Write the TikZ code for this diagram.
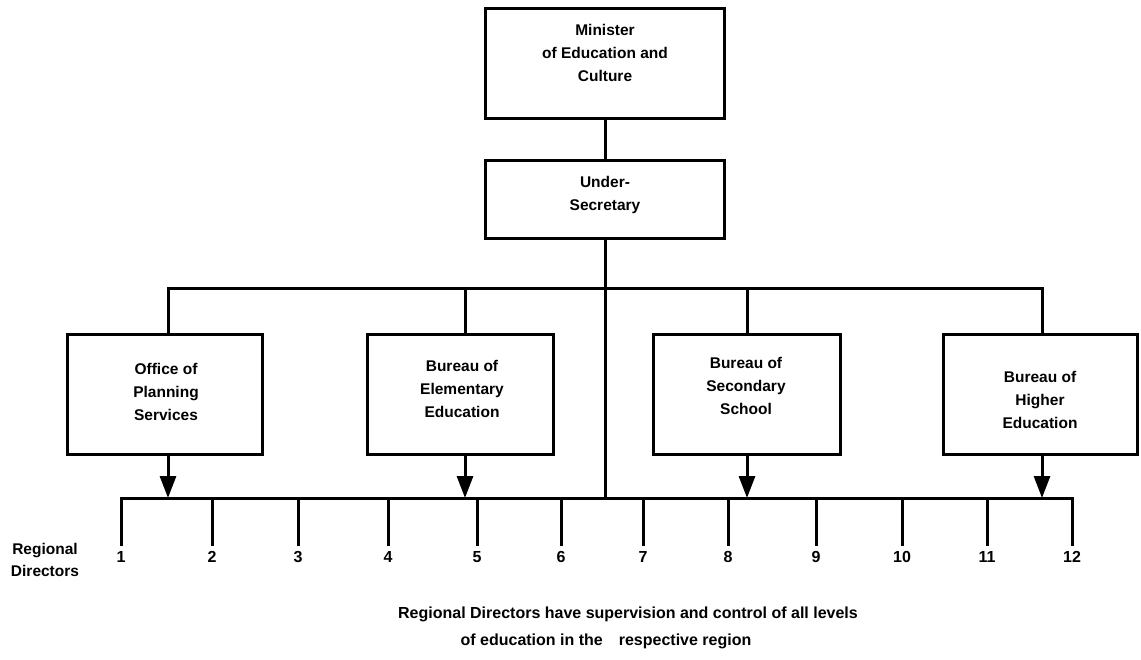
\documentclass[tikz,border=0pt]{standalone}
\usepackage{fontspec}
\setmainfont{Liberation Sans}
\usetikzlibrary{arrows.meta}
\begin{document}
\begin{tikzpicture}[x=1pt,y=-1pt,
  every node/.style={font=\fontsize{15.5}{23}\selectfont\bfseries},
  unit/.style={draw, line width=3pt, inner sep=0pt},
  txt/.style={inner sep=0pt, align=center},
  wire/.style={line width=3pt, line cap=rect},
  feed/.style={line width=3pt, -{Triangle[width=16pt,length=22pt]}}]
\useasboundingbox (0,0) rectangle (1141,659);

% ministry and under-secretary
\node[unit, minimum width=239pt, minimum height=110pt] (min) at (605,63) {};
\node[txt] (mintxt) at (605,53) {Minister\\of Education and\\Culture};
\node[unit, minimum width=239pt, minimum height=78pt] (under) at (605,199) {};
\node[txt] (undertxt) at (605,195) {Under-\\Secretary};

% bureaus
\node[unit, minimum width=195pt, minimum height=120pt] (office) at (164.5,394) {};
\node[txt] (officetxt) at (166,392) {Office of\\Planning\\Services};
\node[unit, minimum width=186pt, minimum height=120pt] (elem) at (460,394) {};
\node[txt] (elemtxt) at (462,389) {Bureau of\\Elementary\\Education};
\node[unit, minimum width=187pt, minimum height=120pt] (sec) at (746.5,394) {};
\node[txt] (sectxt) at (746,386) {Bureau of\\Secondary\\School};
\node[unit, minimum width=194pt, minimum height=120pt] (high) at (1040,394) {};
\node[txt] (hightxt) at (1040,400) {Bureau of\\Higher\\Education};

% branch points on the upper distribution line
\coordinate (b1) at (168,288);
\coordinate (b2) at (465,288);
\coordinate (b3) at (747,288);
\coordinate (b4) at (1042,288);

% regional directors line and its drops
\foreach \i/\x in {1/121,2/212,3/298,4/388,5/477,6/561,7/643,8/728,9/816,10/902,11/987,12/1072}{
  \coordinate (r\i) at (\x,498);
  \draw[wire] (r\i) -- ++(0,46);
  \node[txt, font=\fontsize{16}{20}\selectfont\bfseries] (n\i) at (\x,557) {\i};
}

\draw[wire] (min) -- (under);
\draw[wire] (under.south) -- (under.south |- r1);
\draw[wire] (b1) -- (b4);
\draw[wire] (b1) -- (b1 |- office.north);
\draw[wire] (b2) -- (b2 |- elem.north);
\draw[wire] (b3) -- (b3 |- sec.north);
\draw[wire] (b4) -- (b4 |- high.north);
\draw[wire] (r1) -- (r12);

% bureaus feeding the regional directors
\draw[feed] (office.south -| b1) -- (b1 |- r1);
\draw[feed] (elem.south -| b2) -- (b2 |- r1);
\draw[feed] (sec.south -| b3) -- (b3 |- r1);
\draw[feed] (high.south -| b4) -- (b4 |- r1);

\node[txt, font=\fontsize{15.5}{22}\selectfont\bfseries] (regdir) at (45,560)
  {Regional\\Directors};

\node[txt, font=\fontsize{16}{20}\selectfont\bfseries] (note1) at (628,614)
  {Regional Directors have supervision and control of all levels};
\node[txt, font=\fontsize{16}{20}\selectfont\bfseries] (note2) at (606,641)
  {of education in the\quad respective region};
\end{tikzpicture}
\end{document}
